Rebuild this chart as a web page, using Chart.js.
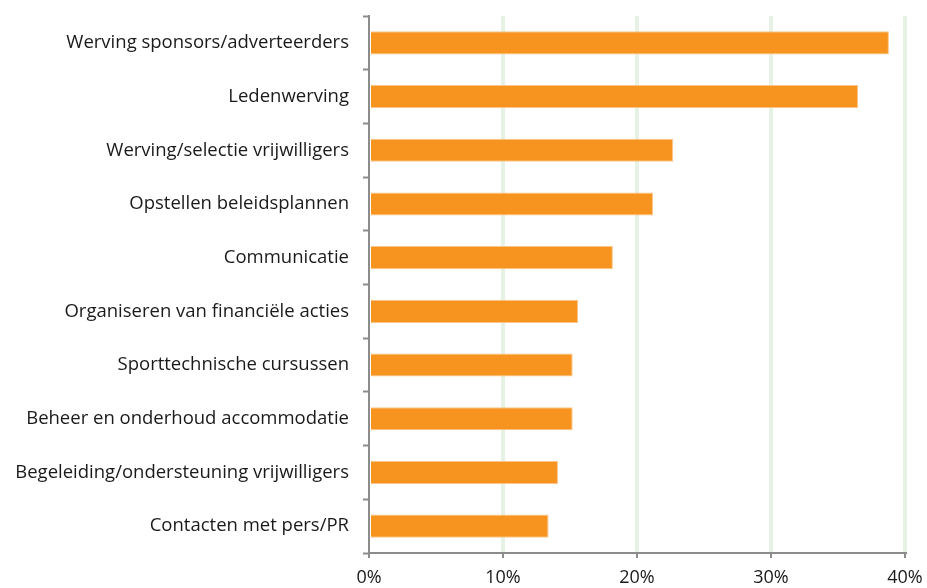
<!DOCTYPE html>
<html>
<head>
<meta charset="utf-8">
<script src="https://cdn.jsdelivr.net/npm/chart.js@4/dist/chart.umd.min.js"></script>
<style>
  html, body { margin: 0; padding: 0; background: #fff; }
  #wrap { width: 927px; height: 588px; }
</style>
</head>
<body>
<div id="wrap"><canvas id="barChart" width="927" height="588"></canvas></div>
<script>
const categories = [
    'Werving sponsors/adverteerders',
    'Ledenwerving',
    'Werving/selectie vrijwilligers',
    'Opstellen beleidsplannen',
    'Communicatie',
    'Organiseren van financiële acties',
    'Sporttechnische cursussen',
    'Beheer en onderhoud accommodatie',
    'Begeleiding/ondersteuning vrijwilligers',
    'Contacten met pers/PR'
];
const percentages = [38.8, 36.5, 22.7, 21.2, 18.2, 15.6, 15.2, 15.2, 14.1, 13.4];
const xTicks = [0, 10, 20, 30, 40];

const canvas = document.getElementById('barChart');

new Chart(canvas.getContext('2d'), {
    type: 'bar',
    data: {
        labels: categories,
        datasets: [{
            data: percentages,
            backgroundColor: '#F7941F',
            borderColor: '#FBC58A',
            borderWidth: 1,
            borderSkipped: 'start',
            categoryPercentage: 1,
            barPercentage: 0.43
        }]
    },
    options: {
        indexAxis: 'y',
        responsive: false,
        animation: false,
        layout: { padding: { top: 16, right: 22, left: 0, bottom: 0 } },
        plugins: { legend: { display: false }, tooltip: { enabled: false } },
        scales: {
            x: {
                min: 0,
                max: 40,
                afterBuildTicks: (scale) => { scale.ticks = xTicks.map(v => ({ value: v })); },
                afterFit: (scale) => {
                    scale.height = 35;
                    scale.paddingLeft = 0;
                    scale.paddingRight = 0;
                },
                ticks: {
                    callback: (v) => v + '%',
                    color: '#1a1a1a',
                    font: { family: 'Open Sans', size: 18 },
                    padding: 9,
                    maxRotation: 0
                },
                grid: {
                    color: (ctx) => ctx.index === 0 ? 'rgba(0,0,0,0)' : '#E6F2E3',
                    lineWidth: 4,
                    tickColor: '#8C8C8C',
                    tickWidth: 2,
                    tickLength: 5
                },
                border: { color: '#8C8C8C', width: 2 }
            },
            y: {
                afterFit: (scale) => {
                    scale.width = 369;
                    scale.paddingTop = 0;
                    scale.paddingBottom = 0;
                },
                ticks: {
                    color: '#1a1a1a',
                    font: { family: 'Open Sans', size: 18.5 },
                    padding: 14
                },
                grid: {
                    offset: true,
                    drawOnChartArea: false,
                    tickColor: '#8C8C8C',
                    tickWidth: 2,
                    tickLength: 6
                },
                border: { color: '#8C8C8C', width: 2 }
            }
        }
    }
});
</script>
</body>
</html>
